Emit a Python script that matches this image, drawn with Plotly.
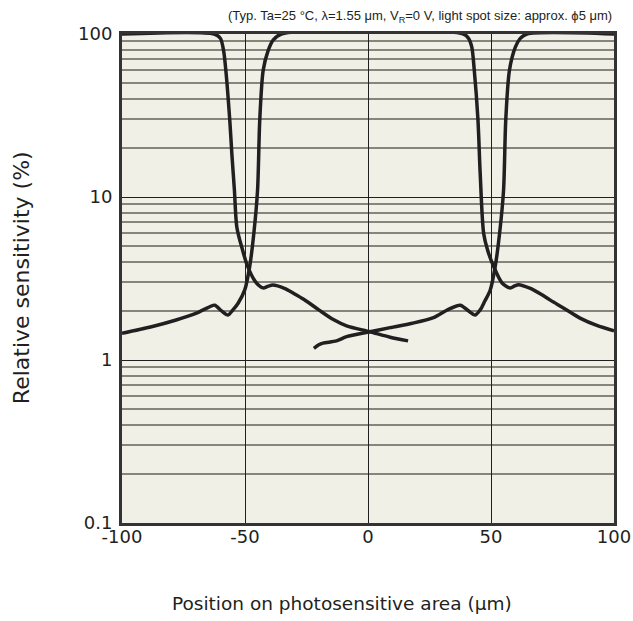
import plotly.graph_objects as go

# ---- data ----
x_tick_vals = [-100, -50, 0, 50, 100]
x_tick_text = ["-100", "-50", "0", "50", "100"]
y_tick_vals = [0.1, 1, 10, 100]
y_tick_text = ["0.1", "1", "10", "100"]
y_minor_vals = [k * 10.0 ** e for e in (-1, 0, 1) for k in range(2, 10)]

# curve 1: high on the left, falls near -55 um, ends at +16 um
c1_x = [-100, -62.5, -60.0, -58.7, -57.8, -56.2, -55.3, -54.3, -53.3, -51.0, -48.9, -45.4, -42.7,
        -40.5, -38.7, -34.0, -30.0, -26.0, -20.0, -14.1, -8.7, 0.8, 9.0, 16.3]
c1_y = [100, 100, 94, 79, 60, 29.7, 18, 11, 6.5, 4.73, 3.74, 2.97, 2.77,
        2.84, 2.88, 2.75, 2.55, 2.35, 2.03, 1.77, 1.62, 1.49, 1.38, 1.31]

# curve 2: low on the left, high in the centre, low on the right
c2_x = [-100, -88.0, -78.0, -70.0, -64.4, -62.3, -59.5, -56.9, -54.9, -52.8, -50.1, -48.1, -46.4,
        -44.9, -44.0, -42.6, -40.6, -38.5, -35.2, 38.8, 40.9, 42.2, 43.2, 44.7, 45.6, 47.0,
        48.6, 51.1, 54.5, 57.8, 59.6, 61.2, 66.0, 70.0, 74.1, 79.6, 86.4, 93.0, 100]
c2_y = [1.46, 1.6, 1.76, 1.93, 2.12, 2.17, 2.0, 1.89, 2.03, 2.23, 2.69, 3.74, 6.0,
        11, 29.7, 60, 79, 92, 100, 100, 94, 83, 60, 29.7, 14, 6.0,
        4.73, 3.74, 2.97, 2.77, 2.85, 2.9, 2.75, 2.55, 2.33, 2.08, 1.8, 1.63, 1.51]

# curve 3: starts at -22 um, rises near +55 um, high on the right
c3_x = [-22.0, -20.0, -18.3, -12.8, -8.7, 0.8, 9.0, 18.0, 26.6, 32.0, 37.5, 40.5, 43.6, 45.6,
        47.5, 49.7, 51.7, 53.5, 55.1, 56.0, 57.5, 59.9, 61.9, 64.6, 100]
c3_y = [1.18, 1.24, 1.27, 1.31, 1.39, 1.49, 1.58, 1.68, 1.82, 2.02, 2.17, 2.02, 1.89, 2.03,
        2.3, 2.69, 3.74, 6.0, 11, 29.7, 60, 83, 94, 100, 100]

series = [(c1_x, c1_y), (c2_x, c2_y), (c3_x, c3_y)]

fig = go.Figure()
for xs, ys in series:
    fig.add_trace(go.Scatter(
        x=xs, y=ys, mode="lines",
        line=dict(color="#231f20", width=3.5, shape="spline", smoothing=0.8),
        showlegend=False, hoverinfo="skip",
    ))

ink = "#231f20"
tick_font = dict(family="DejaVu Sans", size=18, color=ink)

fig.update_layout(
    width=633, height=621,
    margin=dict(l=122, r=19, t=34, b=98, autoexpand=False),
    paper_bgcolor="white",
    plot_bgcolor="#f1f0e7",
    font=tick_font,
    xaxis=dict(
        range=[-100, 100], tickmode="array", tickvals=x_tick_vals, ticktext=x_tick_text,
        showgrid=True, gridcolor=ink, gridwidth=1, zeroline=False, automargin=False,
        showline=True, linecolor="#333333", linewidth=3, mirror=True,
        ticks="", tickfont=tick_font, ticklabelstandoff=-5,
    ),
    yaxis=dict(
        type="log", range=[-1, 2], tickmode="array", tickvals=y_tick_vals, ticktext=y_tick_text,
        showgrid=True, gridcolor=ink, gridwidth=1.2, zeroline=False, automargin=False,
        showline=True, linecolor="#333333", linewidth=3, mirror=True,
        ticks="", tickfont=tick_font, ticklabelstandoff=3,
        minor=dict(tickmode="array", tickvals=y_minor_vals, showgrid=True,
                   gridcolor="#86847c", gridwidth=1.6, ticks=""),
    ),
    annotations=[
        dict(text="(Typ. Ta=25 °C, λ=1.55 μm, V<sub>R</sub>=0 V, light spot size: approx. ϕ5 μm)",
             xref="paper", yref="paper", x=1.0, y=1.035, xanchor="right", yanchor="middle",
             showarrow=False, font=dict(family="Liberation Sans, Arial, sans-serif",
                                        size=13, color=ink)),
        dict(text="Position on photosensitive area (μm)", xref="paper", yref="paper",
             x=0.447, y=-0.164, xanchor="center", yanchor="middle", showarrow=False,
             font=dict(family="DejaVu Sans", size=18.5, color=ink)),
        dict(text="Relative sensitivity (%)", xref="paper", yref="paper",
             x=-0.205, y=0.501, xanchor="center", yanchor="middle", textangle=-90,
             showarrow=False, font=dict(family="DejaVu Sans", size=22, color=ink)),
    ],
)

fig.write_html(
    "out.html", config={"displayModeBar": False},
    post_script="document.body.style.margin='0';",
)
